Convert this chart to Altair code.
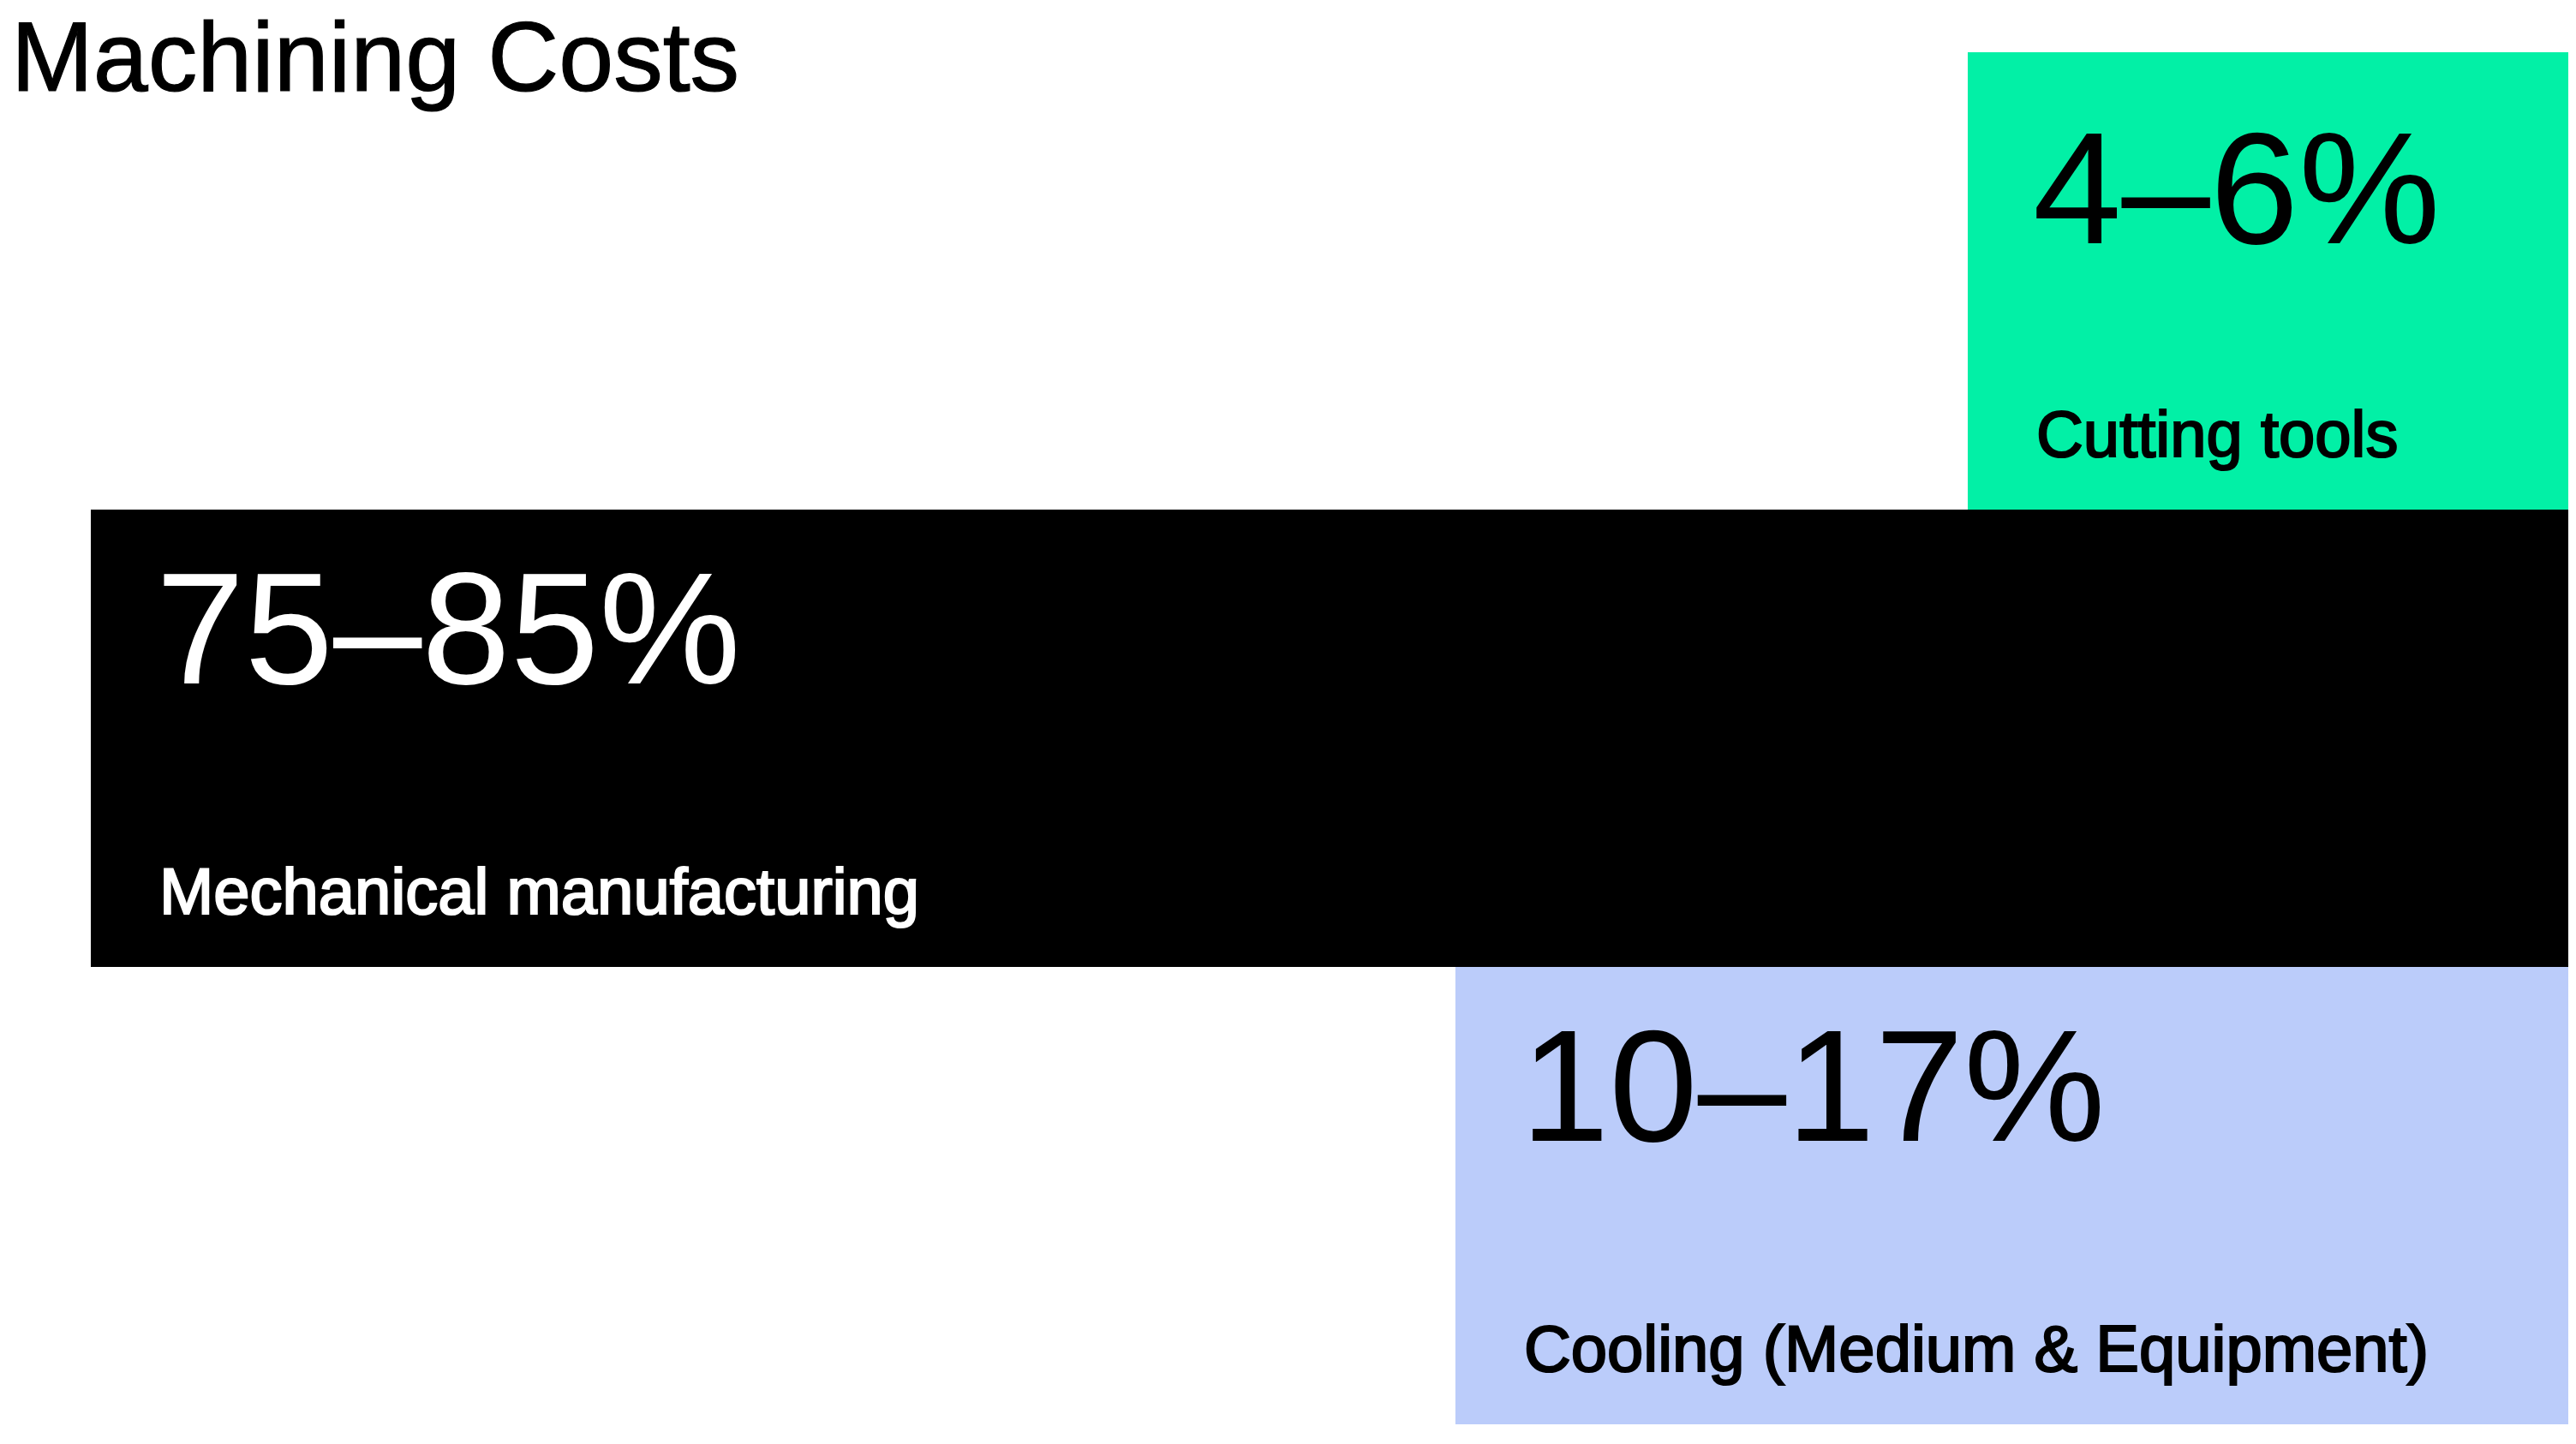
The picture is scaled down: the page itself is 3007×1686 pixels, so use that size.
import altair as alt
import pandas as pd

# ---- data ----
TITLE = "Machining Costs"
categories = ["Cutting tools", "Mechanical manufacturing", "Cooling (Medium & Equipment)"]
range_labels = ["4–6%", "75–85%", "10–17%"]
low_pct = [4, 75, 10]
high_pct = [6, 85, 17]

# ---- layout (kept apart from data) ----
rows = [0, 1, 2]                      # top-to-bottom row index
x_start = [75.76, 0.0, 55.08]         # box left edge, % of full width
num_base = [0.418, 0.380, 0.380]      # baseline of big number within row
lab_base = 0.884                      # baseline of category label within row
fill_colors = ["#02F0A6", "#000000", "#BBCCFA"]
text_colors = ["#000000", "#FFFFFF", "#000000"]

df = pd.DataFrame({
    "category": categories,
    "range": range_labels,
    "low": low_pct,
    "high": high_pct,
    "row": rows,
    "row_end": [r + 1 for r in rows],
    "x0": x_start,
    "x1": [100.0] * len(rows),
    "num_y": [r + b for r, b in zip(rows, num_base)],
    "lab_y": [r + lab_base for r in rows],
})

W, H = 2892, 1602
xs = alt.Scale(domain=[0, 100], nice=False, zero=False)
ys = alt.Scale(domain=[0, 3], reverse=True, nice=False, zero=False)
fill_scale = alt.Scale(domain=categories, range=fill_colors)
text_scale = alt.Scale(domain=categories, range=text_colors)

base = alt.Chart(df)

boxes = base.mark_rect(strokeWidth=0).encode(
    x=alt.X("x0:Q", scale=xs, axis=None),
    x2="x1:Q",
    y=alt.Y("row:Q", scale=ys, axis=None),
    y2="row_end:Q",
    fill=alt.Fill("category:N", scale=fill_scale, legend=None),
)

numbers = base.mark_text(
    align="left", baseline="alphabetic", dx=76,
    font="Liberation Sans", fontSize=186, fontWeight="normal",
).encode(
    x=alt.X("x0:Q", scale=xs, axis=None),
    y=alt.Y("num_y:Q", scale=ys, axis=None),
    text="range:N",
    color=alt.Color("category:N", scale=text_scale, legend=None),
)

labels = base.mark_text(
    align="left", baseline="alphabetic", dx=80,
    font="Liberation Sans", fontSize=76, fontWeight="normal", strokeWidth=2.2,
).encode(
    x=alt.X("x0:Q", scale=xs, axis=None),
    y=alt.Y("lab_y:Q", scale=ys, axis=None),
    text="category:N",
    color=alt.Color("category:N", scale=text_scale, legend=None),
    stroke=alt.Stroke("category:N", scale=text_scale, legend=None),
)

title = alt.Chart(pd.DataFrame({"t": [TITLE]})).mark_text(
    align="left", baseline="alphabetic",
    font="Liberation Sans", fontSize=115, color="#000000",
    stroke="#000000", strokeWidth=1.2,
).encode(
    x=alt.value(-93),
    y=alt.value(45),
    text="t:N",
)

chart = alt.layer(boxes, numbers, labels, title).resolve_scale(
    color="independent"
).properties(
    width=W, height=H,
    padding={"left": 98, "top": 53, "right": 0, "bottom": 0},
    autosize=alt.AutoSizeParams(type="none"),
    background="#FFFFFF",
).configure_view(stroke=None)

chart.save("out.html", embed_options={"renderer": "svg", "actions": False})
